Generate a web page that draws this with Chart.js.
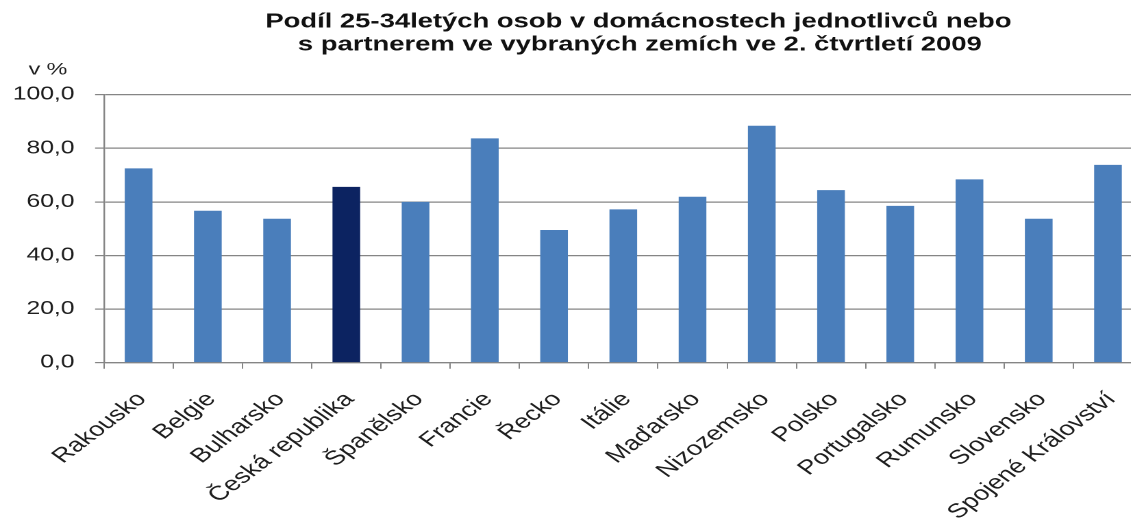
<!DOCTYPE html>
<html>
<head>
<meta charset="utf-8">
<script src="https://cdn.jsdelivr.net/npm/chart.js@4.4.1/dist/chart.umd.min.js"></script>
<style>
  html, body { margin: 0; padding: 0; background: #fff; overflow: hidden; width: 1131px; height: 518px; }
  #wrap { position: absolute; left: 0; top: 0; width: 840px; height: 518px; transform: scaleX(1.37); transform-origin: 0 0; }
</style>
</head>
<body>
<div id="wrap"><canvas id="c"></canvas></div>
<script>
const categories = ["Rakousko", "Belgie", "Bulharsko", "Česká republika", "Španělsko", "Francie", "Řecko", "Itálie", "Maďarsko", "Nizozemsko", "Polsko", "Portugalsko", "Rumunsko", "Slovensko", "Spojené Království"];
const shareValues = [72.5, 56.7, 53.7, 65.6, 60.0, 83.7, 49.5, 57.2, 61.9, 88.4, 64.4, 58.5, 68.4, 53.7, 73.8];
const highlighted = ["Česká republika"];
const titleLines = ["Podíl 25-34letých osob v domácnostech jednotlivců nebo", "s partnerem ve vybraných zemích ve 2. čtvrtletí 2009"];
const unitLabel = "v %";
const yTicks = [0, 20, 40, 60, 80, 100];

const barColor = '#4a7ebb';
const darkColor = '#0c2361';
const gridColor = '#858585';
const textColor = '#1e1e1e';

const textPlugin = {
  id: 'textPlugin',
  afterDraw(chart) {
    const ctx = chart.ctx;
    ctx.save();
    ctx.fillStyle = '#111111';
    ctx.textAlign = 'center';
    ctx.textBaseline = 'middle';
    ctx.font = 'bold 20px "Liberation Sans", Arial, sans-serif';
    ctx.fillText(titleLines[0], 466, 22);
    ctx.fillText(titleLines[1], 467, 45);
    ctx.fillStyle = textColor;
    ctx.font = '17px "Liberation Sans", Arial, sans-serif';
    ctx.fillText(unitLabel, 35, 70);
    ctx.restore();
  }
};

new Chart(document.getElementById('c'), {
  type: 'bar',
  data: {
    labels: categories,
    datasets: [{
      data: shareValues,
      backgroundColor: categories.map(c => highlighted.includes(c) ? darkColor : barColor),
      borderWidth: 0,
      barPercentage: 0.4,
      categoryPercentage: 1.0
    }]
  },
  options: {
    responsive: true,
    maintainAspectRatio: false,
    devicePixelRatio: 2,
    animation: false,
    layout: { padding: { top: 94.7, right: 6, left: 0, bottom: 0 } },
    plugins: { legend: { display: false }, title: { display: false }, tooltip: { enabled: false } },
    scales: {
      x: {
        offset: true,
        grid: { display: true, drawOnChartArea: false, drawTicks: true, tickLength: 6, color: gridColor, offset: true },
        border: { display: true, color: gridColor, width: 1.2 },
        ticks: {
          autoSkip: false, maxRotation: 46, minRotation: 46, padding: 19, labelOffset: 2.5,
          color: textColor,
          font: { family: '"Liberation Sans", Arial, sans-serif', size: 20 }
        },
        afterFit(scale) { scale.height = 518 - 362.7; scale.paddingLeft = 0; scale.paddingRight = 0; }
      },
      y: {
        min: 0, max: 100,
        afterBuildTicks(scale) { scale.ticks = yTicks.map(v => ({ value: v })); },
        grid: { color: gridColor, lineWidth: 1.2, drawTicks: true, tickLength: 6.5 },
        border: { display: true, color: gridColor, width: 1.2 },
        ticks: {
          padding: 15,
          color: textColor,
          font: { family: '"Liberation Sans", Arial, sans-serif', size: 18 },
          callback: v => v.toFixed(1).replace('.', ',')
        },
        afterFit(scale) { scale.width = 75.9; scale.paddingTop = 0; scale.paddingBottom = 0; }
      }
    }
  },
  plugins: [textPlugin]
});
</script>
</body>
</html>
